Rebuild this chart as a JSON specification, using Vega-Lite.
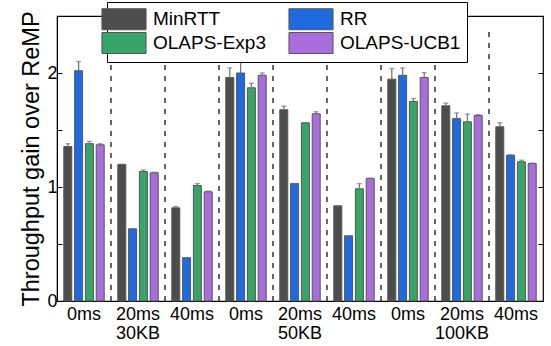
{
  "$schema": "https://vega.github.io/schema/vega-lite/v6.json",
  "width": 486,
  "height": 285,
  "autosize": {"type": "none"},
  "padding": {"left": 57, "top": 16, "right": 8, "bottom": 45},
  "config": {
    "font": "Liberation Sans",
    "view": {"stroke": "black", "strokeWidth": 1.2}
  },
  "data": {
    "values": [
      {"grp": "30KB-0ms", "algo": "MinRTT", "v": 1.355, "hi": 1.38},
      {"grp": "30KB-0ms", "algo": "RR", "v": 2.02, "hi": 2.10},
      {"grp": "30KB-0ms", "algo": "OLAPS-Exp3", "v": 1.38, "hi": 1.40},
      {"grp": "30KB-0ms", "algo": "OLAPS-UCB1", "v": 1.37, "hi": 1.38},
      {"grp": "30KB-20ms", "algo": "MinRTT", "v": 1.197, "hi": 1.20},
      {"grp": "30KB-20ms", "algo": "RR", "v": 0.633, "hi": 0.635},
      {"grp": "30KB-20ms", "algo": "OLAPS-Exp3", "v": 1.136, "hi": 1.15},
      {"grp": "30KB-20ms", "algo": "OLAPS-UCB1", "v": 1.125, "hi": 1.13},
      {"grp": "30KB-40ms", "algo": "MinRTT", "v": 0.817, "hi": 0.83},
      {"grp": "30KB-40ms", "algo": "RR", "v": 0.38, "hi": 0.38},
      {"grp": "30KB-40ms", "algo": "OLAPS-Exp3", "v": 1.013, "hi": 1.03},
      {"grp": "30KB-40ms", "algo": "OLAPS-UCB1", "v": 0.958, "hi": 0.965},
      {"grp": "50KB-0ms", "algo": "MinRTT", "v": 1.96, "hi": 2.045},
      {"grp": "50KB-0ms", "algo": "RR", "v": 2.0, "hi": 2.11},
      {"grp": "50KB-0ms", "algo": "OLAPS-Exp3", "v": 1.87, "hi": 1.91},
      {"grp": "50KB-0ms", "algo": "OLAPS-UCB1", "v": 1.98, "hi": 2.0},
      {"grp": "50KB-20ms", "algo": "MinRTT", "v": 1.677, "hi": 1.71},
      {"grp": "50KB-20ms", "algo": "RR", "v": 1.03, "hi": 1.03},
      {"grp": "50KB-20ms", "algo": "OLAPS-Exp3", "v": 1.563, "hi": 1.565},
      {"grp": "50KB-20ms", "algo": "OLAPS-UCB1", "v": 1.642, "hi": 1.66},
      {"grp": "50KB-40ms", "algo": "MinRTT", "v": 0.835, "hi": 0.835},
      {"grp": "50KB-40ms", "algo": "RR", "v": 0.572, "hi": 0.572},
      {"grp": "50KB-40ms", "algo": "OLAPS-Exp3", "v": 0.984, "hi": 1.03},
      {"grp": "50KB-40ms", "algo": "OLAPS-UCB1", "v": 1.075, "hi": 1.078},
      {"grp": "100KB-0ms", "algo": "MinRTT", "v": 1.946, "hi": 2.04},
      {"grp": "100KB-0ms", "algo": "RR", "v": 1.98, "hi": 2.045},
      {"grp": "100KB-0ms", "algo": "OLAPS-Exp3", "v": 1.75, "hi": 1.776},
      {"grp": "100KB-0ms", "algo": "OLAPS-UCB1", "v": 1.96, "hi": 2.004},
      {"grp": "100KB-20ms", "algo": "MinRTT", "v": 1.712, "hi": 1.735},
      {"grp": "100KB-20ms", "algo": "RR", "v": 1.60, "hi": 1.65},
      {"grp": "100KB-20ms", "algo": "OLAPS-Exp3", "v": 1.572, "hi": 1.64},
      {"grp": "100KB-20ms", "algo": "OLAPS-UCB1", "v": 1.627, "hi": 1.635},
      {"grp": "100KB-40ms", "algo": "MinRTT", "v": 1.528, "hi": 1.563},
      {"grp": "100KB-40ms", "algo": "RR", "v": 1.279, "hi": 1.283},
      {"grp": "100KB-40ms", "algo": "OLAPS-Exp3", "v": 1.221, "hi": 1.235},
      {"grp": "100KB-40ms", "algo": "OLAPS-UCB1", "v": 1.206, "hi": 1.21}
    ]
  },
  "encoding": {
    "x": {
      "field": "grp", "type": "nominal", "sort": null,
      "scale": {"paddingInner": 0, "paddingOuter": 0},
      "axis": {
        "title": null, "ticks": false, "domainColor": "black",
        "labelAngle": 0, "labelFontSize": 18, "labelColor": "black",
        "labelPadding": 4, "labelLineHeight": 19,
        "labelExpr": "split(datum.label,'-')[1] == '20ms' ? [split(datum.label,'-')[1], split(datum.label,'-')[0]] : split(datum.label,'-')[1]"
      }
    }
  },
  "resolve": {"scale": {"y": "independent"}},
  "layer": [
    {
      "mark": {"type": "bar", "stroke": "#555", "strokeWidth": 1},
      "encoding": {
        "xOffset": {
          "field": "algo", "type": "nominal",
          "sort": ["MinRTT", "RR", "OLAPS-Exp3", "OLAPS-UCB1"],
          "scale": {"paddingInner": 0.26, "paddingOuter": 0.63}
        },
        "y": {
          "field": "v", "type": "quantitative",
          "scale": {"domain": [0, 2.5], "nice": false},
          "axis": {
            "values": [0, 0.5, 1, 1.5, 2],
            "labelExpr": "datum.value % 1 == 0 ? format(datum.value, 'd') : ''",
            "tickSize": -5, "tickColor": "black", "domainColor": "black",
            "labelFontSize": 18, "labelColor": "black", "labelPadding": 5,
            "grid": false,
            "title": "Throughput gain over ReMP", "titleFontSize": 23.5,
            "titleFontWeight": "normal", "titleColor": "black", "titlePadding": 3
          }
        },
        "color": {
          "field": "algo", "type": "nominal",
          "scale": {
            "domain": ["MinRTT", "RR", "OLAPS-Exp3", "OLAPS-UCB1"],
            "range": ["#4d4d4d", "#1e6ade", "#38a468", "#aa6ddc"]
          },
          "legend": {
            "orient": "none", "legendX": 50, "legendY": -14, "columns": 2,
            "values": ["MinRTT", "OLAPS-Exp3", "RR", "OLAPS-UCB1"],
            "title": null, "zindex": 1,
            "symbolType": "M-2.1,-1H2.1V1H-2.1Z", "symbolSize": 441,
            "symbolStrokeColor": "#555", "symbolStrokeWidth": 1, "symbolOpacity": 1,
            "labelFontSize": 19, "labelColor": "black", "labelOffset": 18,
            "fillColor": "white", "strokeColor": "black", "padding": 6,
            "rowPadding": -4, "columnPadding": 20
          }
        }
      }
    },
    {
      "mark": {"type": "rule", "color": "#777", "strokeWidth": 1.3},
      "encoding": {
        "xOffset": {"field": "algo", "type": "nominal", "sort": ["MinRTT", "RR", "OLAPS-Exp3", "OLAPS-UCB1"]},
        "y": {
          "field": "v", "type": "quantitative",
          "scale": {"domain": [0, 2.5], "nice": false},
          "axis": {
            "orient": "right", "values": [0.5, 1, 1.5, 2], "labels": false,
            "tickSize": -5, "tickColor": "black", "domain": false,
            "grid": false, "title": null
          }
        },
        "y2": {"field": "hi"}
      }
    },
    {
      "mark": {"type": "tick", "orient": "horizontal", "size": 5, "thickness": 1.3, "color": "#777"},
      "encoding": {
        "xOffset": {"field": "algo", "type": "nominal", "sort": ["MinRTT", "RR", "OLAPS-Exp3", "OLAPS-UCB1"]},
        "y": {
          "field": "hi", "type": "quantitative",
          "scale": {"domain": [0, 2.5], "nice": false}, "axis": null
        }
      }
    },
    {
      "transform": [{"filter": "datum.algo == 'MinRTT' && datum.grp != '30KB-0ms'"}],
      "mark": {"type": "rule", "color": "black", "strokeWidth": 1.2, "strokeDash": [5, 6]},
      "encoding": {
        "x": {
          "field": "grp", "type": "nominal", "sort": null, "bandPosition": 0,
          "scale": {"paddingInner": 0, "paddingOuter": 0},
          "axis": {
            "title": null, "ticks": false, "domainColor": "black",
            "labelAngle": 0, "labelFontSize": 18, "labelColor": "black",
            "labelPadding": 4, "labelLineHeight": 19,
            "labelExpr": "split(datum.label,'-')[1] == '20ms' ? [split(datum.label,'-')[1], split(datum.label,'-')[0]] : split(datum.label,'-')[1]"
          }
        },
        "y": {"datum": 0, "type": "quantitative", "scale": {"domain": [0, 2.5], "nice": false}, "axis": null},
        "y2": {"datum": 2.38}
      }
    }
  ]
}
